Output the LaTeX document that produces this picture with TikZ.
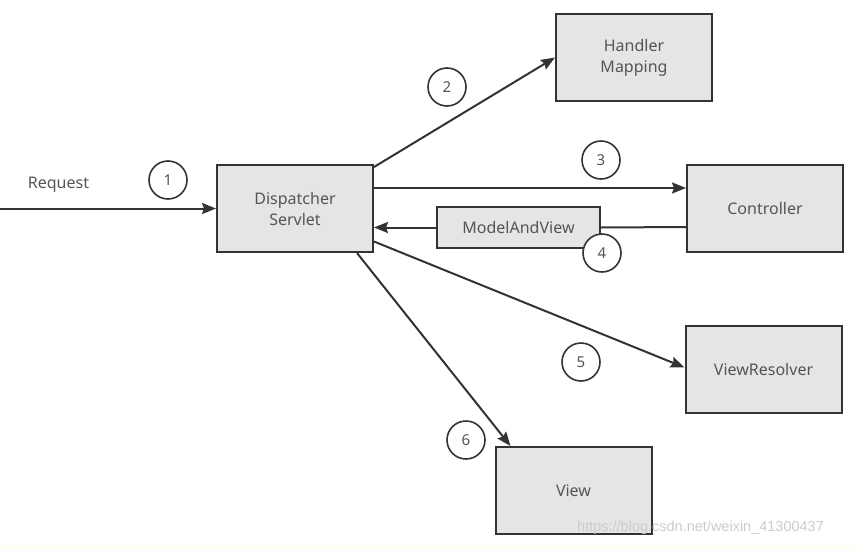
\documentclass[tikz,border=0pt]{standalone}
\usepackage{fontspec}
\setmainfont{Noto Sans}
\newfontfamily\wmfont{Liberation Sans}
\usetikzlibrary{arrows.meta,calc}
\definecolor{boxfill}{HTML}{E5E5E5}
\definecolor{boxline}{HTML}{333333}
\definecolor{txt}{HTML}{555555}
\begin{document}
\begin{tikzpicture}[x=1pt,y=-1pt,
  box/.style={draw=boxline,fill=boxfill,line width=2pt,minimum width=156pt,minimum height=87pt,inner sep=0pt,align=center,text=txt,font=\fontsize{16}{21}\selectfont},
  small/.style={draw=boxline,fill=boxfill,line width=2pt,minimum width=163pt,minimum height=41pt,inner sep=0pt,text=txt,font=\fontsize{16}{21}\selectfont},
  num/.style={draw=boxline,circle,line width=1.6pt,minimum size=38pt,inner sep=0pt,text=txt,font=\fontsize{15}{17}\selectfont},
  conn/.style={draw=boxline,line width=2pt},
  arr/.style={conn,-{Stealth[length=14pt,width=11pt,inset=2pt]}}]
\useasboundingbox (0,0) rectangle (859,549);
\fill[white] (0,0) rectangle (859,549);
\fill[yellow!4] (0,545) rectangle (859,549);
% boxes
\node[box] (disp) at (295,208.5) {Dispatcher\\Servlet};
\node[box] (hm) at (634,57.5) {Handler\\Mapping};
\node[box] (ctrl) at (765,208.5) {Controller};
\node[box] (vr) at (763.5,369.5) {ViewResolver};
\node[box] (view) at (573.5,490.5) {View};
\node[small] (mav) at (518.5,227.5) {ModelAndView};
% request
\coordinate (req) at (0,208.5);
\node[text=txt,font=\fontsize{16}{21}\selectfont] (reqlbl) at (58.5,185) {Request};
% connectors
\draw[arr] (req) -- (disp.west);
\draw[arr] ([yshift=-3pt]disp.north east) -- (hm.west);
\draw[arr] ([yshift=20.5pt]disp.east) -- ([yshift=20.5pt]ctrl.west);
\draw[conn] ([yshift=-18.5pt]ctrl.west) -- (mav.east);
\draw[arr] (mav.west) -- (mav.west -| disp.east);
\draw[arr] ([yshift=-33pt]disp.east) -- ([yshift=2pt]vr.west);
\draw[arr] ([xshift=62pt]disp.south) -- ([xshift=-63pt]view.north);
% numbers
\node[num] (n1) at (168,180) {1};
\node[num] (n2) at (447,87) {2};
\node[num] (n3) at (601,160) {3};
\node[num,fill=white] (n4) at (602,253) {4};
\node[num] (n5) at (581,362) {5};
\node[num] (n6) at (466,440) {6};
% watermark
\node[anchor=west,text=gray!40,font=\wmfont\fontsize{14.5}{16}\selectfont,inner sep=0pt] (wm) at (577,528) {https://blog.csdn.net/weixin\_41300437};
\end{tikzpicture}
\end{document}
